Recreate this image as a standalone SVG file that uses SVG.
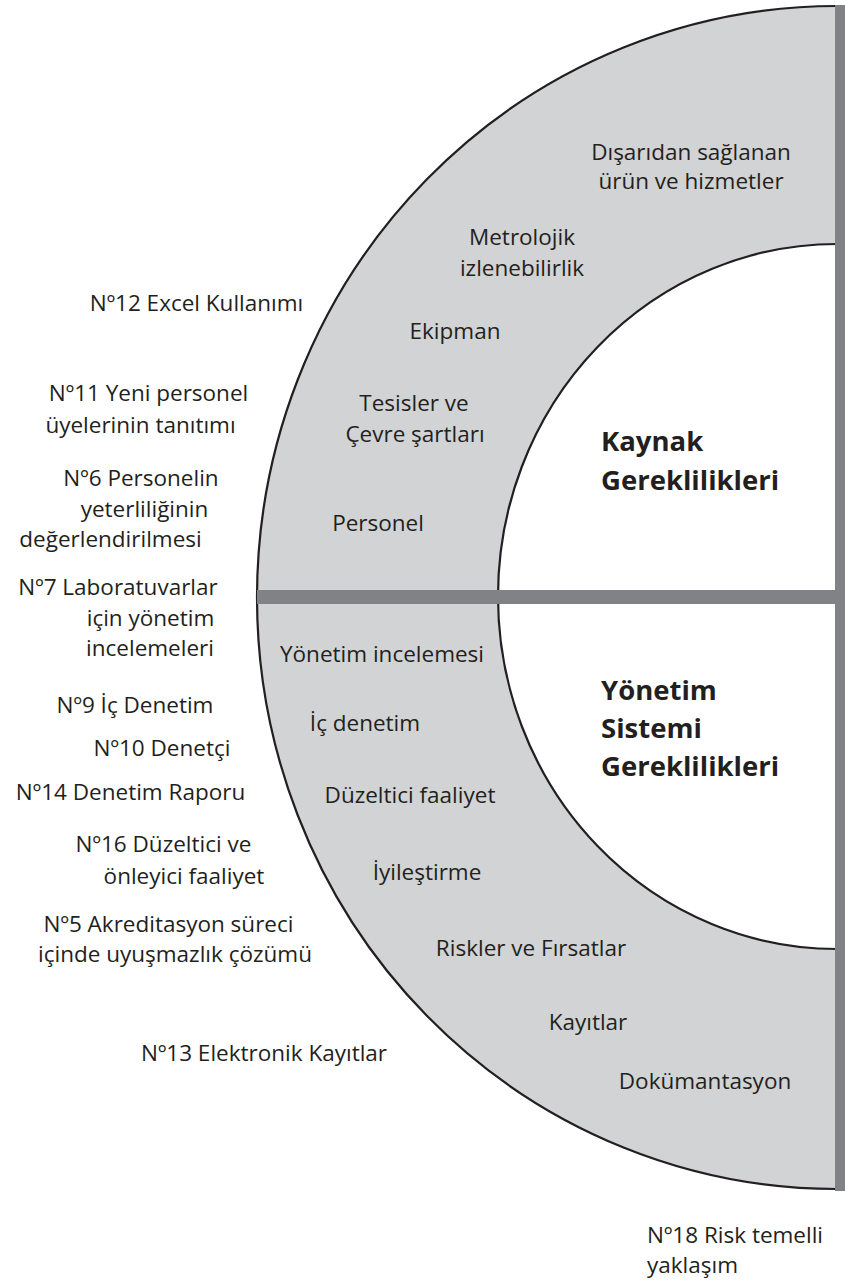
<svg xmlns="http://www.w3.org/2000/svg" width="845" height="1285" viewBox="0 0 845 1285">
<style>
.t{font-family:"Open Sans","Liberation Sans",sans-serif;font-size:22.5px;fill:#231f20;text-anchor:middle}
.b{font-family:"Open Sans","Liberation Sans",sans-serif;font-size:27.5px;font-weight:bold;fill:#231f20}
.arc{fill:none;stroke:#231f20;stroke-width:2.2}
.bar{fill:#808285}
</style>
<rect width="845" height="1285" fill="#ffffff"/>
<g id="ring">
<path d="M837,6 A580,591.5 0 0 0 837,1189 L837,949 A339,352.5 0 0 1 837,244 Z" fill="#d1d3d4"/>
<path class="arc" d="M837,6 A580,591.5 0 0 0 837,1189"/>
<path class="arc" d="M837,244 A339,352.5 0 0 0 837,949"/>
</g>
<g id="bars">
<rect class="bar" x="835" y="5" width="10" height="1186"/>
<rect class="bar" x="257" y="590" width="588" height="14"/>
</g>
<g id="resource-items">
<text class="t" x="691" y="160">Dışarıdan sağlanan</text>
<text class="t" x="691" y="189">ürün ve hizmetler</text>
<text class="t" x="522" y="245">Metrolojik</text>
<text class="t" x="522" y="276">izlenebilirlik</text>
<text class="t" x="455" y="339">Ekipman</text>
<text class="t" x="414" y="411">Tesisler ve</text>
<text class="t" x="415" y="442">Çevre şartları</text>
<text class="t" x="378" y="531">Personel</text>
</g>
<g id="management-items">
<text class="t" x="382" y="662">Yönetim incelemesi</text>
<text class="t" x="365" y="731">İç denetim</text>
<text class="t" x="410" y="803">Düzeltici faaliyet</text>
<text class="t" x="427" y="880">İyileştirme</text>
<text class="t" x="531" y="956">Riskler ve Fırsatlar</text>
<text class="t" x="588" y="1030">Kayıtlar</text>
<text class="t" x="705" y="1089">Dokümantasyon</text>
</g>
<g id="kaynak">
<text class="b" x="601" y="451">Kaynak</text>
<text class="b" x="601" y="490">Gereklilikleri</text>
</g>
<g id="yonetim">
<text class="b" x="601" y="700">Yönetim</text>
<text class="b" x="601" y="738">Sistemi</text>
<text class="b" x="601" y="776">Gereklilikleri</text>
</g>
<g id="guides">
<text class="t" x="196.5" y="311">Nº12 Excel Kullanımı</text>
<text class="t" x="148.5" y="401">Nº11 Yeni personel</text>
<text class="t" x="140.5" y="433">üyelerinin tanıtımı</text>
<text class="t" x="141" y="486">Nº6 Personelin</text>
<text class="t" x="144.5" y="517">yeterliliğinin</text>
<text class="t" x="110.5" y="547">değerlendirilmesi</text>
<text class="t" x="118" y="595">Nº7 Laboratuvarlar</text>
<text class="t" x="150.5" y="626">için yönetim</text>
<text class="t" x="150" y="656">incelemeleri</text>
<text class="t" x="135" y="713">Nº9 İç Denetim</text>
<text class="t" x="162" y="756">Nº10 Denetçi</text>
<text class="t" x="130.5" y="800">Nº14 Denetim Raporu</text>
<text class="t" x="163.5" y="852">Nº16 Düzeltici ve</text>
<text class="t" x="184" y="884">önleyici faaliyet</text>
<text class="t" x="168.5" y="932">Nº5 Akreditasyon süreci</text>
<text class="t" x="175" y="962">içinde uyuşmazlık çözümü</text>
<text class="t" x="264" y="1061">Nº13 Elektronik Kayıtlar</text>
<text class="t" x="647" y="1243" style="text-anchor:start">Nº18 Risk temelli</text>
<text class="t" x="647" y="1273" style="text-anchor:start">yaklaşım</text>
</g>
</svg>
